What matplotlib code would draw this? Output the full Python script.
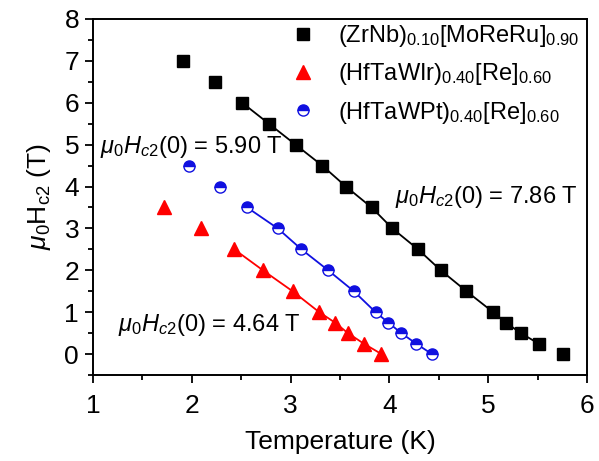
import matplotlib
matplotlib.use("Agg")
import matplotlib.pyplot as plt

plt.rcParams['font.family'] = ['Liberation Sans', 'DejaVu Sans']
plt.rcParams['mathtext.fontset'] = 'custom'
plt.rcParams['mathtext.rm'] = 'Liberation Sans'
plt.rcParams['mathtext.it'] = 'Liberation Sans:italic'
plt.rcParams['mathtext.bf'] = 'Liberation Sans:bold'

# Data
T_zrnb = [1.91, 2.23, 2.51, 2.78, 3.05, 3.32, 3.56, 3.82, 4.03, 4.29, 4.52, 4.78, 5.05, 5.18, 5.33, 5.51, 5.76]
H_zrnb = [7.0, 6.5, 6.0, 5.5, 5.0, 4.5, 4.0, 3.5, 3.0, 2.5, 2.0, 1.5, 1.0, 0.75, 0.5, 0.25, 0.0]
T_ir = [1.72, 2.09, 2.43, 2.72, 3.02, 3.29, 3.45, 3.58, 3.74, 3.92]
H_ir = [3.5, 3.0, 2.5, 2.0, 1.5, 1.0, 0.75, 0.5, 0.25, 0.0]
T_pt = [1.975, 2.29, 2.56, 2.87, 3.11, 3.38, 3.64, 3.86, 3.99, 4.12, 4.27, 4.43]
H_pt = [4.5, 4.0, 3.5, 3.0, 2.5, 2.0, 1.5, 1.0, 0.75, 0.5, 0.25, 0.0]

# fitted ranges (indices into data)
fit_zrnb = (2, 16)
fit_ir = (2, 10)
fit_pt = (2, 12)

labels = [r'(ZrNb)$_{0.10}$[MoReRu]$_{0.90}$',
          r'(HfTaWIr)$_{0.40}$[Re]$_{0.60}$',
          r'(HfTaWPt)$_{0.40}$[Re]$_{0.60}$']
annots = [r'$\mu_0H_{c2}$(0) = 5.90 T', r'$\mu_0H_{c2}$(0) = 7.86 T', r'$\mu_0H_{c2}$(0) = 4.64 T']

blue = '#1010e0'
red = '#ff0000'

fig = plt.figure(figsize=(5.99, 4.61), dpi=100)
ax = fig.add_axes([93/599, 1-375/461, (587-93)/599, (375-19)/461])

ax.plot(T_zrnb[fit_zrnb[0]:fit_zrnb[1]], H_zrnb[fit_zrnb[0]:fit_zrnb[1]], '-', color='black', lw=1.3, zorder=2)
ax.plot(T_ir[fit_ir[0]:fit_ir[1]], H_ir[fit_ir[0]:fit_ir[1]], '-', color=red, lw=1.3, zorder=2)
ax.plot(T_pt[fit_pt[0]:fit_pt[1]], H_pt[fit_pt[0]:fit_pt[1]], '-', color=blue, lw=1.3, zorder=2)

ax.plot(T_zrnb, H_zrnb, 's', color='black', ms=8, ls='none', zorder=3, label=labels[0])
ax.plot(T_ir, H_ir, '^', color=red, ms=10.5, ls='none', zorder=3, label=labels[1])
ax.plot(T_pt, H_pt, 'o', ls='none', ms=8, fillstyle='top', markerfacecolor=blue,
        markerfacecoloralt='white', markeredgecolor=blue, markeredgewidth=1.0, zorder=3, label=labels[2])

ax.set_xlim(1, 6)
ax.set_ylim(-0.5, 8)
ax.set_xticks([1, 2, 3, 4, 5, 6])
ax.set_yticks([0, 1, 2, 3, 4, 5, 6, 7, 8])
ax.set_xticks([1.5, 2.5, 3.5, 4.5, 5.5], minor=True)
ax.set_yticks([-0.5, 0.5, 1.5, 2.5, 3.5, 4.5, 5.5, 6.5, 7.5], minor=True)
ax.tick_params(which='major', direction='out', length=6, width=1.3, labelsize=19)
ax.tick_params(axis='x', which='major', pad=8)
ax.tick_params(axis='y', which='major', pad=4)
ax.tick_params(which='minor', direction='out', length=3.5, width=1.3)
for s in ax.spines.values():
    s.set_linewidth(1.4)

ax.set_xlabel('Temperature (K)', fontsize=19, labelpad=8)
ax.set_ylabel(r'$\mu_0\mathrm{H}_{\mathrm{c2}}$ (T)', fontsize=19, labelpad=8)

ax.text(1.07, 4.94, annots[0], fontsize=17, va='center', ha='left')
ax.text(4.06, 3.75, annots[1], fontsize=17, va='center', ha='left')
ax.text(1.25, 0.69, annots[2], fontsize=17, va='center', ha='left')

leg = ax.legend(loc='upper left', bbox_to_anchor=(291/599, 1-23/461), bbox_transform=fig.transFigure,
                frameon=False, fontsize=17, handlelength=1.0, handletextpad=1.0,
                labelspacing=0.52, borderaxespad=0, borderpad=0, numpoints=1)

fig.savefig('out.png', dpi=100)
